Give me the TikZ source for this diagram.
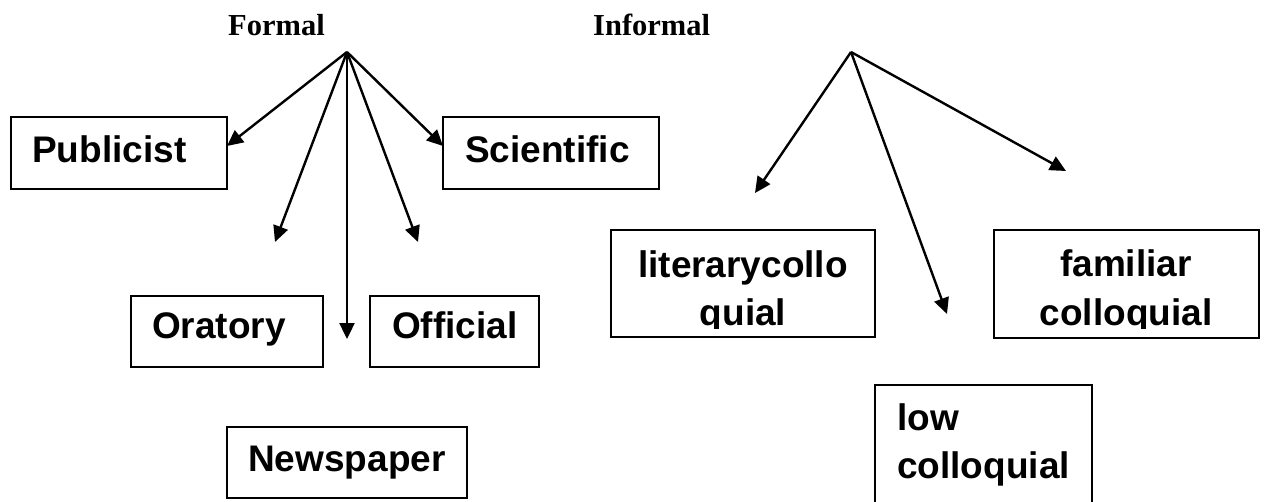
\documentclass[tikz,border=0pt]{standalone}
\usepackage{fontspec}
\setmainfont{Liberation Serif}
\newfontfamily\arialfont{Liberation Sans}
\usetikzlibrary{arrows.meta}
\begin{document}
\begin{tikzpicture}[x=1pt,y=-1pt,
  box/.style={draw, line width=2.7pt, rectangle, inner sep=0pt},
  lbl/.style={font=\arialfont\bfseries\fontsize{37}{44}\selectfont, inner sep=0pt, anchor=base west},
  head/.style={font=\bfseries\fontsize{30.5}{36}\selectfont, inner sep=0pt, anchor=base west},
  arr/.style={line width=2.4pt, -{Triangle[length=16pt,width=15pt]}}
]
\useasboundingbox (0,0) rectangle (1267,501);

% headings
\node[head] (formal) at (228,35) {Formal};
\node[head] (informal) at (593,35) {Informal};

% origins and arrow ends
\coordinate (F) at (347,52);
\coordinate (I) at (851,52);
\coordinate (f1) at (227,146);
\coordinate (f2) at (275,242);
\coordinate (f3) at (347,339);
\coordinate (f4) at (418,242);
\coordinate (f5) at (443,146);
\coordinate (i1) at (755,193);
\coordinate (i2) at (947,314);
\coordinate (i3) at (1066,171);

% boxes
\node[box, minimum width=216pt, minimum height=72pt] (pub) at (119,153) {};
\node[box, minimum width=216pt, minimum height=72pt] (sci) at (551,153) {};
\node[box, minimum width=192pt, minimum height=71pt] (ora) at (227,331.5) {};
\node[box, minimum width=169pt, minimum height=71pt] (off) at (454.5,331.5) {};
\node[box, minimum width=240pt, minimum height=71pt] (news) at (347,462.5) {};
\node[box, minimum width=264pt, minimum height=107pt] (lit) at (743,283.5) {};
\node[box, minimum width=265pt, minimum height=108pt] (fam) at (1126.5,284) {};
\node[box, minimum width=217pt, minimum height=140pt] (low) at (983.5,455) {};

% labels
\node[lbl] (pubt) at (32,162) {Publicist};
\node[lbl] (scit) at (465,162) {Scientific};
\node[lbl] (orat) at (152,338) {Oratory};
\node[lbl] (offt) at (392,338) {Official};
\node[lbl] (newst) at (248,471) {Newspaper};
\begin{scope}
\clip (600,225) rectangle (1265,328);
\node[lbl, anchor=base] (lit1) at (743,277) {literarycollo};
\node[lbl, anchor=base] (lit2) at (743,325) {quial};
\node[lbl, anchor=base] (fam1) at (1126,276) {familiar};
\node[lbl, anchor=base] (fam2) at (1126,325) {colloquial};
\end{scope}
\node[lbl] (low1) at (897,430) {low};
\node[lbl] (low2) at (897,478) {colloquial};

% arrows
\draw[arr] (F) -- (f1);
\draw[arr] (F) -- (f2);
\draw[arr] (F) -- (f3);
\draw[arr] (F) -- (f4);
\draw[arr] (F) -- (f5);
\draw[arr] (I) -- (i1);
\draw[arr] (I) -- (i2);
\draw[arr] (I) -- (i3);
\end{tikzpicture}
\end{document}
